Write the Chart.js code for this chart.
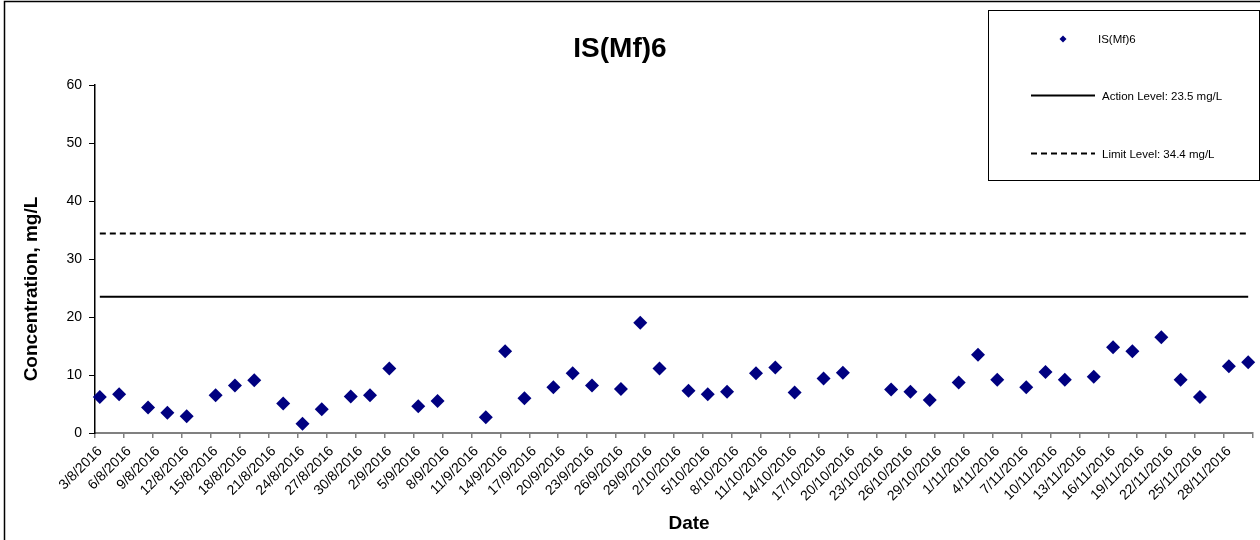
<!DOCTYPE html>
<html>
<head>
<meta charset="utf-8">
<title>IS(Mf)6</title>
<script src="https://cdn.jsdelivr.net/npm/chart.js@4.4.1/dist/chart.umd.min.js"></script>
<style>
  body { margin: 0; background: #fff; }
  #wrap { width: 1260px; height: 540px; position: relative; }
</style>
</head>
<body>
<div id="wrap"><canvas id="chart" width="1260" height="540"></canvas></div>
<script>
const chartTitle = 'IS(Mf)6';
const seriesName = 'IS(Mf)6';
const yTitle = 'Concentration, mg/L';
const xTitle = 'Date';

// sampling dates (d/m/yyyy) and measured concentration, mg/L
const sampleDates = [
  '3/8/2016', '5/8/2016', '8/8/2016', '10/8/2016', '12/8/2016', '15/8/2016', '17/8/2016', '19/8/2016', '22/8/2016', '24/8/2016',
  '26/8/2016', '29/8/2016', '31/8/2016', '2/9/2016', '5/9/2016', '7/9/2016', '12/9/2016', '14/9/2016', '16/9/2016', '19/9/2016',
  '21/9/2016', '23/9/2016', '26/9/2016', '28/9/2016', '30/9/2016', '3/10/2016', '5/10/2016', '7/10/2016', '10/10/2016', '12/10/2016',
  '14/10/2016', '17/10/2016', '19/10/2016', '24/10/2016', '26/10/2016', '28/10/2016', '31/10/2016', '2/11/2016', '4/11/2016', '7/11/2016',
  '9/11/2016', '11/11/2016', '14/11/2016', '16/11/2016', '18/11/2016', '21/11/2016', '23/11/2016', '25/11/2016', '28/11/2016', '30/11/2016'
];
const concentrations = [
  6.2, 6.7, 4.4, 3.5, 2.9, 6.5, 8.2, 9.1, 5.1, 1.6,
  4.1, 6.3, 6.5, 11.1, 4.6, 5.5, 2.7, 14.1, 6.0, 7.9,
  10.3, 8.2, 7.6, 19.0, 11.1, 7.3, 6.7, 7.1, 10.3, 11.3,
  7.0, 9.4, 10.4, 7.5, 7.1, 5.7, 8.7, 13.5, 9.2, 7.9,
  10.5, 9.2, 9.7, 14.8, 14.1, 16.5, 9.2, 6.2, 11.5, 12.2
];

const actionLevel = 23.5;
const limitLevel = 34.4;
const actionLabel = 'Action Level: 23.5 mg/L';
const limitLabel = 'Limit Level: 34.4 mg/L';

// x axis: one tick every 3 days from the start date
const axisStart = '3/8/2016';
const axisDays = 120;
const tickStep = 3;
const tickLabels = [
  '3/8/2016', '6/8/2016', '9/8/2016', '12/8/2016', '15/8/2016', '18/8/2016', '21/8/2016', '24/8/2016', '27/8/2016', '30/8/2016',
  '2/9/2016', '5/9/2016', '8/9/2016', '11/9/2016', '14/9/2016', '17/9/2016', '20/9/2016', '23/9/2016', '26/9/2016', '29/9/2016',
  '2/10/2016', '5/10/2016', '8/10/2016', '11/10/2016', '14/10/2016', '17/10/2016', '20/10/2016', '23/10/2016', '26/10/2016', '29/10/2016',
  '1/11/2016', '4/11/2016', '7/11/2016', '10/11/2016', '13/11/2016', '16/11/2016', '19/11/2016', '22/11/2016', '25/11/2016', '28/11/2016'
];

const FONT = "'Liberation Sans', Arial, sans-serif";

function toDay(s) {
  const p = s.split('/').map(Number);
  const a = axisStart.split('/').map(Number);
  return (Date.UTC(p[2], p[1] - 1, p[0]) - Date.UTC(a[2], a[1] - 1, a[0])) / 86400000;
}

// points sit in the middle of their day, like a date axis in a spreadsheet
const points = sampleDates.map((d, i) => ({ x: toDay(d) + 0.5, y: concentrations[i] }));
const firstX = points[0].x;
const lastX = points[points.length - 1].x;

const decorations = {
  id: 'decorations',
  beforeDraw(chart) {
    const ctx = chart.ctx;
    ctx.save();
    ctx.fillStyle = '#fff';
    ctx.fillRect(0, 0, chart.width, chart.height);
    ctx.restore();
  },
  afterDraw(chart) {
    const ctx = chart.ctx;
    ctx.save();

    // outer frame
    ctx.strokeStyle = '#000';
    ctx.lineWidth = 1.5;
    ctx.beginPath();
    ctx.moveTo(4.5, 540);
    ctx.lineTo(4.5, 1.5);
    ctx.lineTo(1260, 1.5);
    ctx.stroke();

    ctx.fillStyle = '#000';
    ctx.textAlign = 'center';
    ctx.textBaseline = 'middle';

    ctx.font = 'bold 28px ' + FONT;
    ctx.fillText(chartTitle, 620, 49);

    ctx.font = 'bold 19px ' + FONT;
    ctx.fillText(xTitle, 689, 524);

    ctx.save();
    ctx.translate(32, 289);
    ctx.rotate(-Math.PI / 2);
    ctx.fillText(yTitle, 0, 0);
    ctx.restore();

    // legend box
    const lx = 988, ly = 10, lw = 271, lh = 170;
    ctx.fillStyle = '#fff';
    ctx.fillRect(lx, ly, lw, lh);
    ctx.strokeStyle = '#000';
    ctx.lineWidth = 1;
    ctx.strokeRect(lx + 0.5, ly + 0.5, lw, lh);

    const ds = chart.data.datasets;
    ctx.font = '11.5px ' + FONT;
    ctx.textAlign = 'left';

    // marker row
    ctx.fillStyle = ds[0].backgroundColor;
    ctx.beginPath();
    ctx.moveTo(1063, 35.5);
    ctx.lineTo(1066.5, 39);
    ctx.lineTo(1063, 42.5);
    ctx.lineTo(1059.5, 39);
    ctx.closePath();
    ctx.fill();
    ctx.fillStyle = '#000';
    ctx.fillText(ds[0].label, 1098, 40);

    // line rows
    [[ds[1], 95.5], [ds[2], 153.5]].forEach(([d, y]) => {
      ctx.strokeStyle = d.borderColor;
      ctx.lineWidth = d.borderWidth;
      ctx.setLineDash(d.borderDash || []);
      ctx.beginPath();
      ctx.moveTo(1031, y);
      ctx.lineTo(1095, y);
      ctx.stroke();
      ctx.setLineDash([]);
      ctx.fillText(d.label, 1102, y + 1);
    });

    ctx.restore();
  }
};

function createChart() {
  new Chart(document.getElementById('chart'), {
    type: 'scatter',
    data: {
      datasets: [{
        label: seriesName,
        data: points,
        pointStyle: 'rectRot',
        pointRadius: 7,
        pointHoverRadius: 7,
        backgroundColor: '#000080',
        borderColor: '#000080',
        borderWidth: 0,
        showLine: false,
        clip: false
      }, {
        label: actionLabel,
        type: 'line',
        data: [{ x: firstX, y: actionLevel }, { x: lastX, y: actionLevel }],
        borderColor: '#000',
        borderWidth: 2,
        pointRadius: 0,
        fill: false
      }, {
        label: limitLabel,
        type: 'line',
        data: [{ x: firstX, y: limitLevel }, { x: lastX, y: limitLevel }],
        borderColor: '#000',
        borderWidth: 2,
        borderDash: [6, 4],
        pointRadius: 0,
        fill: false
      }]
    },
    options: {
      responsive: false,
      animation: false,
      layout: { padding: { left: 0, top: 85, right: 6, bottom: 0 } },
      plugins: {
        legend: { display: false },
        title: { display: false },
        tooltip: { enabled: false }
      },
      scales: {
        x: {
          type: 'linear',
          min: 0,
          max: axisDays,
          afterFit(scale) {
            scale.height = 107;
            scale.paddingRight = 0;
          },
          border: { color: '#808080', width: 2 },
          grid: { drawOnChartArea: false, drawTicks: true, tickLength: 5, color: '#808080', lineWidth: 1.5 },
          ticks: {
            stepSize: tickStep,
            autoSkip: false,
            maxRotation: 45,
            minRotation: 45,
            padding: 5,
            labelOffset: 5,
            color: '#000',
            font: { family: FONT, size: 14 },
            callback: (v, i) => tickLabels[i] || ''
          }
        },
        y: {
          min: 0,
          max: 60,
          afterFit(scale) { scale.width = 95; },
          border: { color: '#000', width: 1.5 },
          grid: { drawOnChartArea: false, drawTicks: true, tickLength: 6, color: '#000', lineWidth: 1 },
          ticks: {
            stepSize: 10,
            padding: 7,
            color: '#000',
            font: { family: FONT, size: 14 }
          }
        }
      }
    },
    plugins: [decorations]
  });
}

createChart();
</script>
</body>
</html>
